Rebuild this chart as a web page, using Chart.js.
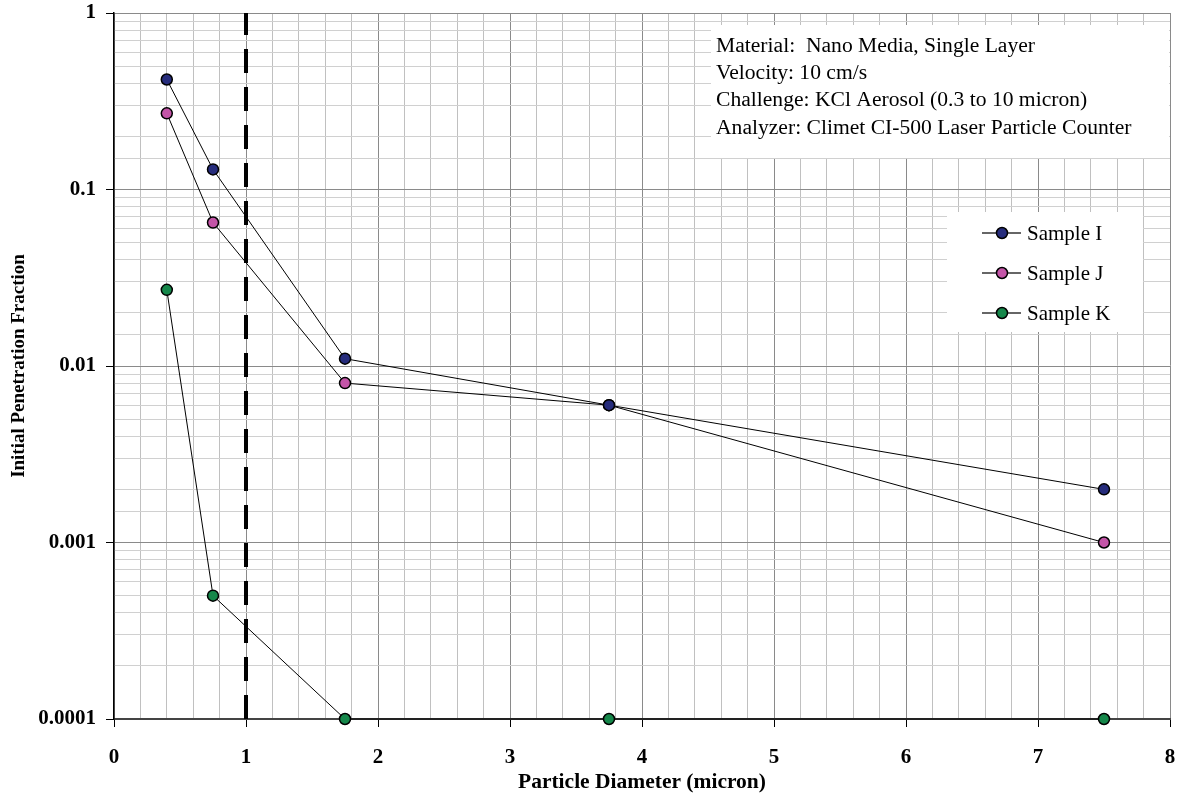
<!DOCTYPE html>
<html>
<head>
<meta charset="utf-8">
<script src="https://cdn.jsdelivr.net/npm/chart.js@4/dist/chart.umd.min.js"></script>
<style>
    body { margin: 0; background: #fff; }
    canvas { display: block; }
</style>
</head>
<body>
<canvas id="chart" width="1178" height="805"></canvas>
<script>
const diameters = [0.4, 0.75, 1.75, 3.75, 7.5];
const sampleI = [0.42, 0.13, 0.011, 0.006, 0.002];
const sampleJ = [0.27, 0.065, 0.008, 0.006, 0.001];
const sampleK = [0.027, 0.0005, 0.0001, 0.0001, 0.0001];
const seriesNames = ['Sample I', 'Sample J', 'Sample K'];
const seriesColors = ['#262C7C', '#C455A8', '#15874A'];
const cutoffX = [1, 1];
const cutoffY = [0.0001, 1];
const infoLines = [
    'Material:  Nano Media, Single Layer',
    'Velocity: 10 cm/s',
    'Challenge: KCl Aerosol (0.3 to 10 micron)',
    'Analyzer: Climet CI-500 Laser Particle Counter'
];

const SERIF = "'Liberation Serif', 'Times New Roman', serif";

function isDecade(v) {
    const l = Math.log10(v);
    return Math.abs(l - Math.round(l)) < 1e-6;
}
function isWhole(v) {
    return Math.abs(v - Math.round(v)) < 1e-6;
}

function makeSeries(name, values, color) {
    return {
        label: name,
        data: diameters.map((d, i) => ({ x: d, y: values[i] })),
        borderColor: '#000',
        borderWidth: 1,
        pointRadius: 5.5,
        pointBorderWidth: 1.5,
        pointBorderColor: '#000',
        pointBackgroundColor: color,
        clip: false
    };
}

// white text box + legend drawn inside the plot
const boxesPlugin = {
    id: 'boxes',
    beforeDatasetsDraw(chart) {
        const c = chart.ctx;
        c.save();
        c.fillStyle = '#fff';
        c.fillRect(711, 25, 458, 133);
        c.fillRect(947, 212, 196, 120);

        c.fillStyle = '#000';
        c.font = '21.6px ' + SERIF;
        c.textBaseline = 'middle';
        c.textAlign = 'left';
        infoLines.forEach((t, i) => c.fillText(t, 716, 46 + i * 27.3));
        c.restore();
    },
    afterDatasetsDraw(chart) {
        const c = chart.ctx;
        c.save();
        seriesNames.forEach((name, i) => {
            const y = 233 + i * 40;
            c.strokeStyle = '#333';
            c.lineWidth = 1.5;
            c.beginPath();
            c.moveTo(982, y);
            c.lineTo(1021, y);
            c.stroke();
            c.beginPath();
            c.arc(1002, y, 5.5, 0, Math.PI * 2);
            c.fillStyle = seriesColors[i];
            c.fill();
            c.strokeStyle = '#000';
            c.stroke();
            c.fillStyle = '#000';
            c.font = '21px ' + SERIF;
            c.textBaseline = 'middle';
            c.fillText(name, 1027, y + 1);
        });
        c.restore();
    }
};

new Chart(document.getElementById('chart'), {
    type: 'line',
    data: {
        datasets: [
            {
                label: 'cutoff',
                data: cutoffX.map((x, i) => ({ x: x, y: cutoffY[i] })),
                borderColor: '#000',
                borderWidth: 4,
                borderDash: [24, 14],
                pointRadius: 0
            },
            makeSeries(seriesNames[0], sampleI, seriesColors[0]),
            makeSeries(seriesNames[1], sampleJ, seriesColors[1]),
            makeSeries(seriesNames[2], sampleK, seriesColors[2])
        ]
    },
    options: {
        responsive: false,
        animation: false,
        events: [],
        layout: { padding: { top: 13, right: 8, left: 0, bottom: 0 } },
        plugins: {
            legend: { display: false },
            tooltip: { enabled: false }
        },
        scales: {
            x: {
                type: 'linear',
                min: 0,
                max: 8,
                afterFit: s => { s.height = 86; s.paddingLeft = 0; s.paddingRight = 0; },
                ticks: {
                    stepSize: 0.2,
                    autoSkip: false,
                    maxTicksLimit: 100,
                    maxRotation: 0,
                    padding: 18,
                    color: '#000',
                    font: { family: SERIF, size: 21, weight: 'bold' },
                    callback: v => isWhole(v) ? String(Math.round(v)) : ''
                },
                grid: {
                    color: ctx => isWhole(ctx.tick.value) ? '#8a8a8a' : '#c0c0c0',
                    tickColor: ctx => isWhole(ctx.tick.value) ? '#000' : 'rgba(0,0,0,0)',
                    tickLength: 8
                },
                border: { color: '#444', width: 2 },
                title: {
                    display: true,
                    text: 'Particle Diameter (micron)',
                    color: '#000',
                    font: { family: SERIF, size: 21.5, weight: 'bold' },
                    padding: { top: 0, bottom: 10 }
                }
            },
            y: {
                type: 'logarithmic',
                min: 0.0001,
                max: 1,
                afterFit: s => { s.width = 114; s.paddingTop = 0; s.paddingBottom = 0; },
                ticks: {
                    autoSkip: false,
                    padding: 10,
                    color: '#000',
                    font: { family: SERIF, size: 21, weight: 'bold' },
                    callback: v => {
                        if (!isDecade(v)) return '';
                        const e = Math.round(Math.log10(v));
                        return e >= 0 ? '1' : Math.pow(10, e).toFixed(-e);
                    }
                },
                grid: {
                    color: ctx => isDecade(ctx.tick.value) ? '#8a8a8a' : '#d0d0d0',
                    tickColor: ctx => isDecade(ctx.tick.value) ? '#000' : 'rgba(0,0,0,0)',
                    tickLength: 8
                },
                border: { color: '#000', width: 1.5 },
                title: {
                    display: true,
                    text: 'Initial Penetration Fraction',
                    color: '#000',
                    font: { family: SERIF, size: 19, weight: 'bold' },
                    padding: { top: 8, bottom: 0 }
                }
            }
        }
    },
    plugins: [boxesPlugin]
});
</script>
</body>
</html>
